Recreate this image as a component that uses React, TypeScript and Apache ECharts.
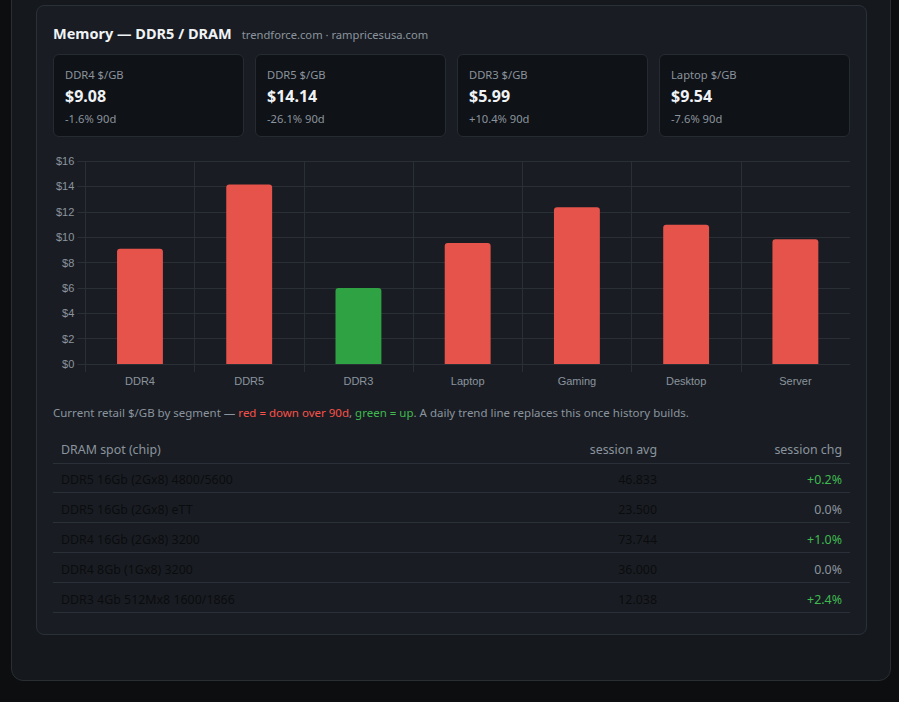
import React, { useEffect, useRef } from "react";
import * as echarts from "echarts";

// Retail $/GB by segment
const segments = ["DDR4", "DDR5", "DDR3", "Laptop", "Gaming", "Desktop", "Server"];
const pricePerGb = [9.08, 14.14, 5.99, 9.54, 12.35, 10.98, 9.83];
const trend90d = ["down", "down", "up", "down", "down", "down", "down"];

// Headline cards (first four segments)
const cardSegments = ["DDR4", "DDR5", "DDR3", "Laptop"];
const cardChange90d = ["-1.6%", "-26.1%", "+10.4%", "-7.6%"];

// DRAM spot table
const spotChips = [
  "DDR5 16Gb (2Gx8) 4800/5600",
  "DDR5 16Gb (2Gx8) eTT",
  "DDR4 16Gb (2Gx8) 3200",
  "DDR4 8Gb (1Gx8) 3200",
  "DDR3 4Gb 512Mx8 1600/1866",
];
const spotSessionAvg = ["46.833", "23.500", "73.744", "36.000", "12.038"];
const spotSessionChg = ["+0.2%", "0.0%", "+1.0%", "0.0%", "+2.4%"];

const yTicks = { min: 0, max: 16, interval: 2 };

const FONT = '"Noto Sans", "Open Sans", sans-serif';
const CHART_FONT = '"Liberation Sans", Arial, sans-serif';
const RED = "#e5534b";
const GREEN = "#2fa244";
const GRID = "#2a2f36";
const MUTED = "#8b949e";

function BarChart() {
  const ref = useRef<HTMLDivElement>(null);
  useEffect(() => {
    if (!ref.current) return;
    const chart = echarts.init(ref.current, null, { renderer: "svg" });
    const splitColors = segments.map(() => GRID).concat(["rgba(0,0,0,0)"]);
    chart.setOption({
      animation: false,
      backgroundColor: "transparent",
      grid: { left: 32, right: 0, top: 11, bottom: 31, containLabel: false },
      xAxis: {
        type: "category",
        data: segments,
        boundaryGap: true,
        axisLine: { show: true, lineStyle: { color: GRID, width: 1 } },
        axisTick: { show: true, length: 8, lineStyle: { color: GRID } },
        splitLine: { show: true, lineStyle: { color: splitColors, width: 1 } },
        axisLabel: {
          color: MUTED,
          fontSize: 11,
          fontFamily: CHART_FONT,
          margin: 11,
        },
      },
      yAxis: {
        type: "value",
        min: yTicks.min,
        max: yTicks.max,
        interval: yTicks.interval,
        axisLine: { show: false },
        axisTick: { show: true, length: 8, lineStyle: { color: GRID } },
        splitLine: { show: true, lineStyle: { color: GRID, width: 1 } },
        axisLabel: {
          color: MUTED,
          fontSize: 11,
          fontFamily: CHART_FONT,
          margin: 11,
          formatter: (v: number) => "$" + v,
        },
      },
      series: [
        {
          type: "bar",
          barWidth: "42%",
          data: pricePerGb.map((v, i) => ({
            value: v,
            itemStyle: {
              color: trend90d[i] === "up" ? GREEN : RED,
              borderRadius: [3, 3, 0, 0],
            },
          })),
        },
      ],
    });
    return () => chart.dispose();
  }, []);
  return <div ref={ref} style={{ width: 797, height: 245 }} />;
}

function StatCard({ idx }: { idx: number }) {
  const seg = cardSegments[idx];
  const price = pricePerGb[segments.indexOf(seg)];
  return (
    <div
      style={{
        position: "absolute",
        left: 53 + idx * 202,
        top: 54,
        width: 191,
        height: 83,
        boxSizing: "border-box",
        background: "#0f1216",
        border: "1px solid #262b32",
        borderRadius: 6,
      }}
    >
      <div style={{ position: "absolute", left: 11, top: 13, fontSize: 11.2, lineHeight: "14px", color: MUTED }}>
        {seg} $/GB
      </div>
      <div
        style={{
          position: "absolute",
          left: 11,
          top: 30,
          fontSize: 16,
          lineHeight: "22px",
          fontWeight: 700,
          color: "#f0f3f6",
        }}
      >
        ${price.toFixed(2)}
      </div>
      <div style={{ position: "absolute", left: 11, top: 57, fontSize: 11.2, lineHeight: "14px", color: MUTED }}>
        {cardChange90d[idx]} 90d
      </div>
    </div>
  );
}

export default function App() {
  const rowTop = 463;
  return (
    <div
      style={{
        position: "absolute",
        left: 0,
        top: 0,
        width: 899,
        height: 702,
        background: "#0d0e10",
        fontFamily: FONT,
        overflow: "hidden",
      }}
    >
      {/* outer panel */}
      <div
        style={{
          position: "absolute",
          left: 11,
          top: -20,
          width: 880,
          height: 701,
          boxSizing: "border-box",
          background: "#15181c",
          border: "1px solid #2a2d31",
          borderRadius: 12,
        }}
      />
      {/* card */}
      <div
        style={{
          position: "absolute",
          left: 36,
          top: 5,
          width: 831,
          height: 630,
          boxSizing: "border-box",
          background: "#191d23",
          border: "1px solid #2a3038",
          borderRadius: 8,
        }}
      />
      <div
        style={{
          position: "absolute",
          left: 53,
          top: 23,
          fontSize: 14.5,
          lineHeight: "20px",
          fontWeight: 700,
          color: "#f0f3f6",
          whiteSpace: "nowrap",
        }}
      >
        Memory — DDR5 / DRAM
        <span style={{ fontSize: 11.2, fontWeight: 400, color: MUTED, marginLeft: 10 }}>
          trendforce.com · rampricesusa.com
        </span>
      </div>

      {cardSegments.map((_, i) => (
        <StatCard key={i} idx={i} />
      ))}

      <div style={{ position: "absolute", left: 53, top: 150 }}>
        <BarChart />
      </div>

      <div
        style={{
          position: "absolute",
          left: 53,
          top: 405,
          fontSize: 11.5,
          lineHeight: "16px",
          color: MUTED,
          whiteSpace: "nowrap",
        }}
      >
        Current retail $/GB by segment —{" "}
        <span style={{ color: "#f85149" }}>red = down over 90d</span>,{" "}
        <span style={{ color: "#3fb950" }}>green = up</span>. A daily trend line replaces this once history builds.
      </div>

      {/* table header */}
      <div
        style={{
          position: "absolute",
          left: 53,
          top: 435,
          width: 797,
          height: 28,
          borderBottom: "1px solid #2a3038",
          fontSize: 12.4,
          color: MUTED,
        }}
      >
        <span style={{ position: "absolute", left: 8, top: 6 }}>DRAM spot (chip)</span>
        <span style={{ position: "absolute", right: 193, top: 6 }}>session avg</span>
        <span style={{ position: "absolute", right: 8, top: 6 }}>session chg</span>
      </div>
      {spotChips.map((chip, i) => {
        const chg = spotSessionChg[i];
        const up = chg.startsWith("+");
        return (
          <div
            key={chip}
            style={{
              position: "absolute",
              left: 53,
              top: rowTop + i * 30,
              width: 797,
              height: 30,
              boxSizing: "border-box",
              borderBottom: "1px solid #2a3038",
              fontSize: 12.4,
            }}
          >
            <span style={{ position: "absolute", left: 8, top: 7.5, color: "#0b0c0e" }}>{chip}</span>
            <span style={{ position: "absolute", right: 193, top: 7.5, color: "#0b0c0e" }}>{spotSessionAvg[i]}</span>
            <span style={{ position: "absolute", right: 8, top: 7.5, color: up ? "#3fb950" : MUTED }}>{chg}</span>
          </div>
        );
      })}
    </div>
  );
}
